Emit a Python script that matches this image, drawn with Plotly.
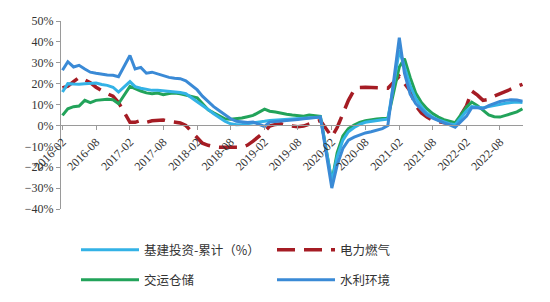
import pandas as pd
import plotly.graph_objects as go

# monthly axis 2016-02 .. 2022-12 (January values not published -> None)
months = pd.date_range("2016-02-01", "2022-12-01", freq="MS")

jijian = [16, 20, 19.8, 19.7, 20, 20.2, 20.3, 19.6, 19.2, 18.3, 16, None,
          21, 18.6, 17.8, 17.2, 16.8, 16.8, 16.6, 16.1, 16, 15.8, 15.2, None,
          11.5, 9.8, 7.6, 5.6, 3.6, 2, 0.8, 0.3, 0.5, 0.8, 1.2, None,
          2, 2.4, 2.6, 2.8, 3, 3.2, 3.4, 3.6, 3.8, 4, 4, None,
          -27, -15, -7, -3, -1, 0.5, 1.5, 2, 2.4, 2.7, 3, None,
          36, 28, 19, 13, 9, 6, 4, 2.6, 1.6, 0.8, 0.3, None,
          7, 9, 8.6, 8.5, 9, 9.6, 10.2, 10.6, 11, 11.2, 11]

dianli = [18, 18.8, 21, 23, 21.8, 20.5, 18.3, 16.5, 15.2, 14, 11, None,
          1.5, 1.5, 2.4, 1.5, 2.2, 2.5, 2.6, 2, 1.6, 1.2, 0, None,
          -5.6, -8.5, -9.5, -10.2, -10.4, -10.4, -10.5, -10.8, -10.5, -9.4, -7.5, None,
          -3, -0.3, 0.5, 0.8, 0, -0.5, -0.6, -0.3, 0.8, 1.6, 2.4, None,
          -5.5, -1, 6, 12, 17, 18.2, 18.3, 18.2, 17.8, 17.6, 17.8, None,
          23.5, 20, 16.5, 9.5, 6, 4, 2.4, 1.8, 1.2, 0.8, 0.5, None,
          9.5, 16.5, 14.5, 12, 12.5, 14, 15.2, 16.2, 17.6, 18.8, 19.7]

jiaoyun = [4.8, 8, 9, 9.3, 12, 10.9, 12, 12.4, 12.5, 12.3, 10.4, None,
           18.7, 17.6, 16.5, 15.6, 15.2, 15.5, 14.7, 15.3, 15.5, 15.2, 14.5, None,
           13.2, 10.5, 7.5, 6, 4.5, 3.2, 3, 3.2, 3.6, 4.2, 4.8, None,
           7.8, 6.8, 6.4, 5.8, 5.4, 5, 4.6, 4.4, 5, 4.8, 4.4, None,
           -27, -13, -5, -1.5, 0.2, 1.5, 2.3, 2.8, 3.1, 3.3, 3.4, None,
           28, 32, 23, 15.5, 11, 8, 5.7, 4, 2.8, 2, 1.3, None,
           8.8, 11.2, 9.5, 7.5, 5, 4.2, 4, 4.8, 5.6, 6.5, 8]

shuili = [26.4, 30.5, 28, 28.8, 27, 25.5, 25, 24.5, 24.2, 24, 23.3, None,
          33.5, 27, 27.8, 25, 25.5, 24.6, 23.8, 23, 22.6, 22.4, 21.4, None,
          17, 14, 11.5, 9, 7, 5, 3.2, 2, 1.6, 1.4, 1.6, None,
          -0.5, 1.6, 1.8, 2, 2.3, 2.6, 2.9, 3.2, 3.5, 3.8, 4, None,
          -30, -19, -11, -7, -5.6, -4.5, -3.6, -3, -2.2, -1.5, 0, None,
          42, 25, 15, 10.5, 7.5, 5, 3.5, 2.2, 1.2, 0.3, -0.8, None,
          4.5, 8.5, 8.5, 8, 9.5, 10.5, 11.5, 12, 12.3, 12.2, 11.6]

names = ["基建投资-累计（%）", "电力燃气", "交运仓储", "水利环境"]
series = [jijian, dianli, jiaoyun, shuili]
colors = ["#33B2E6", "#A51C24", "#22A35A", "#3A8AD6"]
dashes = ["solid", "18px,9px", "solid", "solid"]
widths = [3, 3.5, 3, 3]
legends = ["legend", "legend2", "legend3", "legend4"]

fig = go.Figure()
order = [1, 2, 0, 3]
for i in order:
    fig.add_trace(go.Scatter(
        x=months, y=series[i], mode="lines", name=names[i],
        connectgaps=True,
        line=dict(color=colors[i], width=widths[i], dash=dashes[i]),
        legend=legends[i], showlegend=True))

L, R, T, B = 61, 27, 21, 93
W, H = 550, 302
pw = W - L - R
ph = H - T - B

def px_x(x):
    return (x - L) / pw

def px_y(y):
    return (H - B - y) / ph

legfont = dict(family="Noto Sans CJK SC", size=12.5, color="#333333")
leg_pos = {"legend": (76, 250), "legend2": (272, 250),
           "legend3": (76, 280), "legend4": (272, 280)}
leg_layout = {}
for k, (lx, ly) in leg_pos.items():
    leg_layout[k] = dict(x=px_x(lx), y=px_y(ly), xanchor="left", yanchor="middle",
                         orientation="h", font=legfont, itemwidth=58,
                         bgcolor="rgba(0,0,0,0)", borderwidth=0)

fig.update_layout(
    width=W, height=H,
    margin=dict(l=L, r=R, t=T, b=B, pad=0, autoexpand=False),
    paper_bgcolor="white", plot_bgcolor="white",
    showlegend=True,
    xaxis=dict(
        type="date",
        range=["2016-01-24", "2022-12-04"],
        anchor="free", position=(0 - (-40)) / 90,
        showline=True, linecolor="#9A9A9A", linewidth=1,
        ticks="outside", ticklen=4, tickcolor="#9A9A9A",
        tick0="2016-02-01", dtick="M6", tickformat="%Y-%m",
        tickangle=-45,
        tickfont=dict(family="Liberation Serif", size=12, color="#333333"),
        showgrid=False, zeroline=False, automargin=False,
    ),
    yaxis=dict(
        range=[-40, 50], dtick=10, ticksuffix="%",
        showline=True, linecolor="#9A9A9A", linewidth=1,
        ticks="outside", ticklen=4, tickcolor="#9A9A9A",
        tickfont=dict(family="Liberation Serif", size=12, color="#333333"),
        showgrid=False, zeroline=False, automargin=False,
    ),
    **leg_layout,
)

fig.write_html("out.html")
